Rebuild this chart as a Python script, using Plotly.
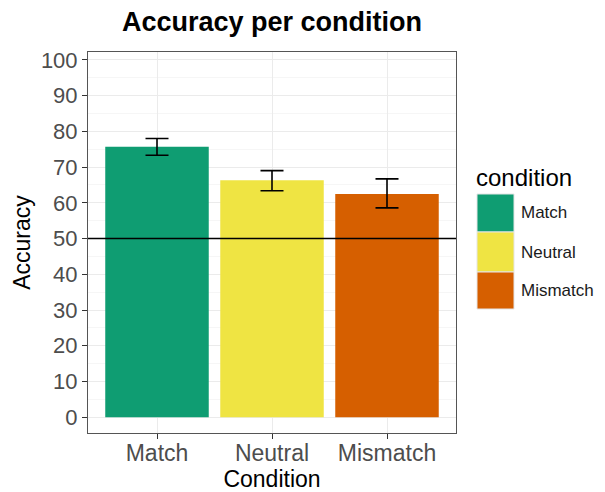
import plotly.graph_objects as go

conditions = ["Match", "Neutral", "Mismatch"]
accuracy = [75.7, 66.3, 62.5]
err_upper = [2.3, 2.7, 4.2]
err_lower = [2.4, 2.9, 3.9]
colors = ["#0F9D72", "#EFE443", "#D65F00"]
chance = 50
y_ticks = list(range(0, 101, 10))

FONT = "Liberation Sans, Arial, sans-serif"

# page body has an 8px margin: work in page pixels, convert to figure pixels
OFF = 8
W, H = 605 - OFF, 492 - OFF
L, R, T, B = 88 - OFF, 456 - OFF, 52 - OFF, 433 - OFF
pw, ph = R - L, B - T

def px2paper(x, y):
    x -= OFF
    y -= OFF
    return (x - L) / pw, (B - y) / ph

fig = go.Figure()
fig.add_trace(go.Bar(
    x=conditions, y=accuracy, width=0.9,
    marker=dict(color=colors, line=dict(width=0)),
    error_y=dict(type="data", symmetric=False, array=err_upper, arrayminus=err_lower,
                 color="black", thickness=1.6, width=11.5),
    showlegend=False,
))

shapes = [dict(type="line", xref="paper", yref="y", x0=0, x1=1, y0=chance, y1=chance,
               line=dict(color="black", width=1.4))]
annotations = []

# legend (ggplot-style keys)
key_left, key_right = 477, 514
key_edges = [194, 232, 272, 309]
for i, (c, lab) in enumerate(zip(conditions, colors)):
    x0, y0 = px2paper(key_left, key_edges[i + 1])
    x1, y1 = px2paper(key_right, key_edges[i])
    shapes.append(dict(type="rect", xref="paper", yref="paper", x0=x0, x1=x1, y0=y0, y1=y1,
                       fillcolor=lab, line=dict(color="#E5E5E5", width=1)))
    tx, ty = px2paper(519, (key_edges[i] + key_edges[i + 1]) / 2)
    annotations.append(dict(xref="paper", yref="paper", x=tx, y=ty, text=c, showarrow=False,
                            xanchor="left", yanchor="middle",
                            font=dict(family=FONT, size=17, color="#1A1A1A")))
tx, ty = px2paper(474, 177)
annotations.append(dict(xref="paper", yref="paper", x=tx, y=ty, text="condition", showarrow=False,
                        xanchor="left", yanchor="middle",
                        font=dict(family=FONT, size=24, color="black")))

fig.update_layout(
    width=W, height=H,
    margin=dict(l=L, r=W - R, t=T, b=H - B),
    paper_bgcolor="white", plot_bgcolor="white",
    title=dict(text="<b>Accuracy per condition</b>", x=(L + R) / 2 / W, xanchor="center",
               y=1 - (22 - OFF) / H, yanchor="middle",
               font=dict(family=FONT, size=27, color="black")),
    xaxis=dict(
        automargin=False,
        title=dict(text="Condition", font=dict(family=FONT, size=23, color="black"), standoff=8),
        tickfont=dict(family=FONT, size=23, color="#4D4D4D"),
        ticklabelstandoff=-6,
        showgrid=True, gridcolor="#EBEBEB", gridwidth=1,
        ticks="outside", ticklen=5, tickcolor="#333333",
        showline=True, linecolor="#555555", mirror=True, linewidth=1,
        zeroline=False,
    ),
    yaxis=dict(
        automargin=False,
        range=[-4.4, 102.2],
        tickvals=y_ticks,
        title=dict(text="Accuracy", font=dict(family=FONT, size=23, color="black"), standoff=3),
        tickfont=dict(family=FONT, size=22, color="#4D4D4D"),
        showgrid=True, gridcolor="#EBEBEB", gridwidth=1,
        minor=dict(dtick=5, tick0=5, showgrid=True, gridcolor="#F6F6F6", gridwidth=0.6),
        ticks="outside", ticklen=5, tickcolor="#333333",
        showline=True, linecolor="#555555", mirror=True, linewidth=1,
        zeroline=False,
    ),
    shapes=shapes,
    annotations=annotations,
)
fig.update_xaxes(range=[-0.6, 2.6])

fig.write_html("out.html")
